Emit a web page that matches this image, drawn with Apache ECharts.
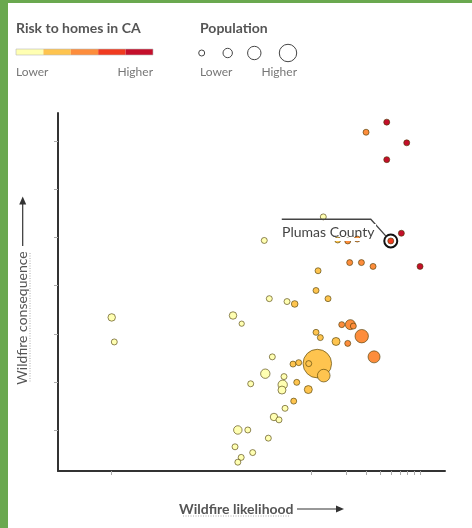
<!DOCTYPE html>
<html><head><meta charset="utf-8">
<script src="https://cdn.jsdelivr.net/npm/echarts@6/dist/echarts.min.js"></script>
<style>html,body{margin:0;padding:0;background:#fff;}#c{width:472px;height:528px;}</style>
</head><body><div id="c"></div>
<script>
// Wildfire likelihood (log scale units)
const likelihood = [4.58,3.01,6.87,4.58,1.265,4.97,6.16,0.382,1.694,2.076,
  2.52,2.16,2.74,3.47,9.0,1.137,1.091,1.392,0.423,0.606,
  0.708,0.2026,0.2416,1.838,2.188,2.326,2.757,1.091,1.191,1.637,
  2.076,0.4497,3.54,0.684,0.768,1.120,0.941,1.276,0.390,0.570,
  0.290,0.555,0.738,0.933,0.547,0.694,0.582,0.465,0.515,0.2234,
  0.2735,0.4146,0.211,0.302,0.2392,0.2234,0.0173,0.01823];
// Wildfire consequence
const consequence = [7.40,7.19,6.97,6.62,5.43,4.93,5.09,4.94,4.95,4.93,
  4.97,4.48,4.48,4.40,4.40,4.31,3.90,3.73,3.73,3.67,
  3.62,3.38,3.21,3.19,3.19,3.16,2.95,3.03,2.92,2.84,
  2.80,2.52,2.52,2.37,2.40,2.38,2.38,2.13,2.17,2.11,
  1.96,1.94,1.99,1.84,1.83,1.60,1.45,1.27,1.21,1.00,
  1.00,0.83,0.65,0.53,0.43,0.33,3.34,2.83];
// Risk to homes class (1 = lower ... 5 = higher)
const riskClass = [5,3,5,5,1,4,5,1,2,3,
  3,3,3,3,5,2,2,2,1,1,
  2,1,1,3,3,3,3,2,2,2,
  3,1,3,2,2,2,2,2,1,1,
  1,1,2,2,1,2,1,1,1,1,
  1,1,1,1,1,1,1,1];
// Population (relative)
const population = [9,9,9,9,9,9,9,9,9,9,
  9,9,9,9,9,9,9,9,9,9,
  11,14,7,9,25,9,45,9,9,16,
  9,9,36,9,9,204,9,40,22,9,
  9,22,9,16,16,9,9,14,9,18,
  9,9,9,9,9,9,14,9];
const plumasIndex = 5;
const plumasLabel = 'Plumas County';

const xTickValues = [0.0173,1,2,3,4,5,6,7,8,9];
const yTickValues = [1,2,3,4,5,6,7];
const xRange = [0.00582, 14.93];
const yRange = [0.147, 7.59];
const riskColors = ['#ffffb2','#fec44f','#fd8d3c','#f03b20','#c40f2b'];
const legendPopulation = [9,22,45,76];

const chart = echarts.init(document.getElementById('c'), null, {renderer:'canvas'});
const FONT = 'Lato, "Open Sans", sans-serif';

const points = likelihood.map((l,i)=>[Math.log10(l), consequence[i], population[i], riskClass[i]]);
points.sort((a,b)=>b[2]-a[2]);

const graphics = [];
graphics.push({type:'rect', id:'gl', shape:{x:0,y:0,width:8,height:528}, style:{fill:'#6aa84f'}, z:100});
graphics.push({type:'rect', id:'gt', shape:{x:0,y:0,width:472,height:3}, style:{fill:'#6aa84f'}, z:100});
// Risk legend
graphics.push({type:'text', id:'rt', x:16, y:28, style:{text:'Risk to homes in CA', font:'bold 14px '+FONT, fill:'#555', textVerticalAlign:'middle'}});
const barX=16, barW=137, segW=barW/riskColors.length;
riskColors.forEach((c,i)=>graphics.push({type:'rect', id:'rb'+i, shape:{x:barX+i*segW, y:49, width:segW, height:6}, style:{fill:c}}));
graphics.push({type:'rect', id:'rbo', shape:{x:barX, y:49, width:barW, height:6}, style:{fill:null, stroke:'#bbb', lineWidth:0.6}});
graphics.push({type:'text', id:'rl', x:16, y:72, style:{text:'Lower', font:'12px '+FONT, fill:'#777', textVerticalAlign:'middle'}});
graphics.push({type:'text', id:'rh', x:153, y:72, style:{text:'Higher', font:'12px '+FONT, fill:'#777', textVerticalAlign:'middle', textAlign:'right'}});
// Population legend
graphics.push({type:'text', id:'pt', x:200, y:28, style:{text:'Population', font:'bold 14px '+FONT, fill:'#555', textVerticalAlign:'middle'}});
const legendX = [201.7, 227.7, 254.3, 288];
legendPopulation.forEach((p,i)=>graphics.push({type:'circle', id:'pc'+i, shape:{cx:legendX[i], cy:53, r:Math.sqrt(p)}, style:{fill:null, stroke:'#444', lineWidth:1}}));
graphics.push({type:'text', id:'pl', x:200, y:72, style:{text:'Lower', font:'12px '+FONT, fill:'#777', textVerticalAlign:'middle'}});
graphics.push({type:'text', id:'ph', x:297, y:72, style:{text:'Higher', font:'12px '+FONT, fill:'#777', textVerticalAlign:'middle', textAlign:'right'}});
// Axis names
graphics.push({type:'text', id:'xn', x:236.3, y:509, style:{text:'Wildfire likelihood', font:'bold 14px '+FONT, fill:'#555', textAlign:'center', textVerticalAlign:'middle'}});
graphics.push({type:'line', id:'xu', shape:{x1:183,y1:516,x2:289,y2:516}, style:{stroke:'#aaa', lineWidth:1, lineDash:[1,1.5]}});
graphics.push({type:'line', id:'xa', shape:{x1:297,y1:509,x2:338,y2:509}, style:{stroke:'#333', lineWidth:1.2}});
graphics.push({type:'polygon', id:'xah', shape:{points:[[344,509],[336,505.5],[336,512.5]]}, style:{fill:'#333'}});
graphics.push({type:'text', id:'yn', x:22.5, y:318, rotation:Math.PI/2, style:{text:'Wildfire consequence', font:'14px '+FONT, fill:'#555', textAlign:'center', textVerticalAlign:'middle'}});
graphics.push({type:'line', id:'yu', shape:{x1:30,y1:253,x2:30,y2:383}, style:{stroke:'#aaa', lineWidth:1, lineDash:[1,1.5]}});
graphics.push({type:'line', id:'ya', shape:{x1:22.7,y1:246,x2:22.7,y2:203}, style:{stroke:'#333', lineWidth:1.2}});
graphics.push({type:'polygon', id:'yah', shape:{points:[[22.7,196.5],[19.2,204.5],[26.2,204.5]]}, style:{fill:'#333'}});

const option = {
  animation:false,
  grid:{left:58, right:27, top:113, bottom:57},
  xAxis:{type:'value', min:Math.log10(xRange[0]), max:Math.log10(xRange[1]),
    axisLine:{show:true, onZero:false, lineStyle:{color:'#333', width:2}},
    axisTick:{show:true, length:4, lineStyle:{color:'#aaa', width:1}, customValues:xTickValues.map(v=>Math.log10(v))},
    axisLabel:{show:false}, splitLine:{show:false}},
  yAxis:{type:'value', min:yRange[0], max:yRange[1],
    axisLine:{show:true, onZero:false, lineStyle:{color:'#333', width:2}},
    axisTick:{show:true, length:4, lineStyle:{color:'#aaa', width:1}, customValues:yTickValues},
    axisLabel:{show:false}, splitLine:{show:false}},
  series:[
    {type:'scatter', silent:true, symbolSize:13,
      data:[[Math.log10(likelihood[plumasIndex]), consequence[plumasIndex]]],
      itemStyle:{color:'#fff', borderColor:'#111', borderWidth:2, opacity:1}},
    {type:'scatter', silent:true, data:points,
      symbolSize:v=>2*Math.sqrt(v[2]),
      itemStyle:{color:p=>riskColors[p.value[3]-1], borderColor:'rgba(70,55,0,0.6)', borderWidth:1, opacity:1}}
  ],
  graphic:graphics
};
chart.setOption(option);

const pp = chart.convertToPixel({gridIndex:0}, [Math.log10(likelihood[plumasIndex]), consequence[plumasIndex]]);
chart.setOption({graphic:[
  {type:'polyline', id:'al', shape:{points:[[pp[0]-109, pp[1]-21.7],[pp[0]-20, pp[1]-21.7],[pp[0]-4.6, pp[1]-4.6]]}, style:{stroke:'#444', lineWidth:1.3, fill:null}, z:50},
  {type:'text', id:'at', x:pp[0]-108.7, y:pp[1]-8.5, z:50, style:{text:plumasLabel, font:'14px '+FONT, fill:'#444', textVerticalAlign:'middle', textBorderColor:'#fff', textBorderWidth:3}}
]});
</script></body></html>
